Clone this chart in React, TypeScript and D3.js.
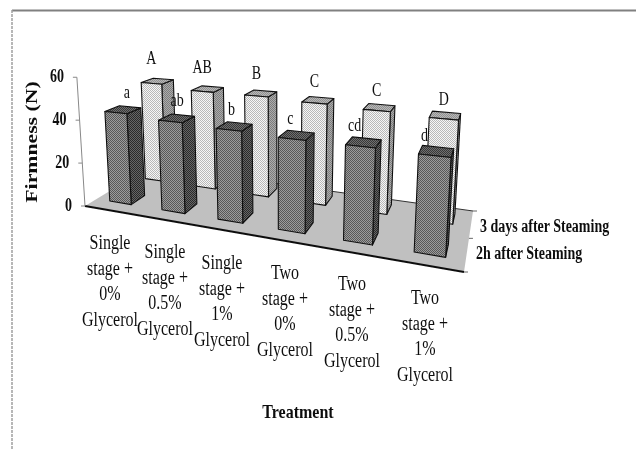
import React from "react";
import * as d3 from "d3";

const treatments = [
  ["Single", "stage +", "0%", "Glycerol"],
  ["Single", "stage +", "0.5%", "Glycerol"],
  ["Single", "stage +", "1%", "Glycerol"],
  ["Two", "stage +", "0%", "Glycerol"],
  ["Two", "stage +", "0.5%", "Glycerol"],
  ["Two", "stage +", "1%", "Glycerol"],
];
const seriesNames = ["2h after Steaming", "3 days after Steaming"];
const firmness2h = [42.5, 41, 40, 39, 39, 38.5];
const firmness3d = [50, 48, 48, 47, 46, 45];
const letters2h = ["a", "ab", "b", "c", "cd", "d"];
const letters3d = ["A", "AB", "B", "C", "C", "D"];
const yTicks = [0, 20, 40, 60];

const FL: [number, number] = [85, 206];
const FR: [number, number] = [464, 272];
const BR: [number, number] = [473, 211];
const BL: [number, number] = [151, 166];
const V: [number, number] = [280, 3300];

// projective map of unit square (u along categories, v into depth) to the floor
function makeHomography() {
  const [x0, y0] = FL, [x1, y1] = FR, [x2, y2] = BR, [x3, y3] = BL;
  const dx1 = x1 - x2, dx2 = x3 - x2, dx3 = x0 - x1 + x2 - x3;
  const dy1 = y1 - y2, dy2 = y3 - y2, dy3 = y0 - y1 + y2 - y3;
  const den = dx1 * dy2 - dx2 * dy1;
  const g = (dx3 * dy2 - dx2 * dy3) / den;
  const h = (dx1 * dy3 - dx3 * dy1) / den;
  const a = x1 - x0 + g * x1, b = x3 - x0 + h * x3;
  const d = y1 - y0 + g * y1, e = y3 - y0 + h * y3;
  return (u: number, v: number) => {
    const w = g * u + h * v + 1;
    return { x: (a * u + b * v + x0) / w, y: (d * u + e * v + y0) / w, s: 1 / w };
  };
}
const floor = makeHomography();

const valueScale = d3.scaleLinear().domain([0, 60]).range([0, 129]);
const uScale = d3.scaleBand<number>().domain(d3.range(6)).range([0, 1]).paddingInner(0.58).paddingOuter(0.26);
const vScale = d3.scaleBand<number>().domain([0, 1]).range([0, 1]).paddingInner(0.63).paddingOuter(0.24).align(0.6);

function lift(u: number, v: number, value: number): [number, number] {
  const p = floor(u, v);
  const px = valueScale(value) * p.s;
  const dx = V[0] - p.x, dy = V[1] - p.y;
  const len = Math.hypot(dx, dy);
  return [p.x - (dx / len) * px, p.y - (dy / len) * px];
}

const poly = d3.line();

function Bar({ cat, row, value, front, side, top }: { cat: number; row: number; value: number; front: string; side: string; top: string }) {
  const u0 = uScale(cat)!, u1 = u0 + uScale.bandwidth();
  const v0 = vScale(row)!, v1 = v0 + vScale.bandwidth();
  const A = lift(u0, v0, 0), B = lift(u1, v0, 0), C = lift(u1, v1, 0);
  const a = lift(u0, v0, value), b = lift(u1, v0, value), c = lift(u1, v1, value), d = lift(u0, v1, value);
  const st = { stroke: "#111", strokeWidth: 1.1, strokeLinejoin: "round" as const };
  return (
    <g>
      <path d={poly([B, C, c, b])! + "Z"} fill={side} {...st} />
      <path d={poly([a, b, c, d])! + "Z"} fill={top} {...st} />
      <path d={poly([A, B, b, a])! + "Z"} fill={front} {...st} />
    </g>
  );
}

const serif = "'Liberation Serif', 'Times New Roman', serif";

function Stretch({ x, y, size, sy = 1.25, bold, children, anchor = "middle" }: any) {
  return (
    <text transform={`translate(${x},${y}) scale(1,${sy})`} fontFamily={serif} fontSize={size} fontWeight={bold ? "bold" : "normal"} textAnchor={anchor} fill="#111">
      {children}
    </text>
  );
}

function dots(id: string, bg: string, fg: string) {
  return (
    <pattern id={id} width={2} height={2} patternUnits="userSpaceOnUse">
      <rect width={2} height={2} fill={bg} />
      <rect width={1} height={1} fill={fg} />
      <rect x={1} y={1} width={1} height={1} fill={fg} />
    </pattern>
  );
}

const labelX = [110, 165, 222, 285, 352, 425];
const labelY = [249, 258, 269, 279, 290, 304];

export default function App() {
  const axisTop = lift(0, 0, 60);
  const order = [1, 0];
  return (
    <svg width={636} height={450} style={{ position: "absolute", left: 0, top: 0, background: "#fff" }}>
      <defs>
        {dots("frontDark", "#9c9c9c", "#585858")}
        {dots("sideDark", "#666", "#2c2c2c")}
        {dots("topDark", "#707070", "#383838")}
        {dots("frontLight", "#f6f6f6", "#b8b8b8")}
        {dots("sideLight", "#acacac", "#7c7c7c")}
        {dots("topLight", "#b8b8b8", "#909090")}
        <filter id="soft"><feGaussianBlur stdDeviation={0.35} /></filter>
      </defs>
      <path d="M12,10.5H636" fill="none" stroke="#808080" strokeWidth={2} />
      <path d="M12,10V450" fill="none" stroke="#a0a0a0" strokeWidth={1.5} strokeDasharray="3 1" />
      <g filter="url(#soft)">
        <path d={poly([FL, FR, BR, BL])! + "Z"} fill="#c0c0c0" />
        <path d={poly([BL, BR])!} stroke="#333" strokeWidth={1} fill="none" />
        <path d={poly([FL, FR])!} stroke="#111" strokeWidth={1.8} fill="none" />
        <path d={poly([FL, axisTop])!} stroke="#888" strokeWidth={1} fill="none" />
        {yTicks.map((t) => {
          const p = lift(0, 0, t);
          return (
            <g key={t}>
              <line x1={p[0] - 4} x2={p[0]} y1={p[1]} y2={p[1]} stroke="#888" />
              <Stretch x={p[0] - 13} y={p[1] + 5} size={14} sy={1.4} bold anchor="end">{t}</Stretch>
            </g>
          );
        })}
        {[0, 0.5, 1].map((v) => {
          const p = floor(1, v);
          return <line key={v} x1={p.x} x2={p.x + 4} y1={p.y} y2={p.y} stroke="#666" />;
        })}
        {order.map((row) =>
          d3.range(6).map((i) => (
            <Bar
              key={`${row}-${i}`}
              cat={i}
              row={row}
              value={row === 0 ? firmness2h[i] : firmness3d[i]}
              front={row === 0 ? "url(#frontDark)" : "url(#frontLight)"}
              side={row === 0 ? "url(#sideDark)" : "url(#sideLight)"}
              top={row === 0 ? "url(#topDark)" : "url(#topLight)"}
            />
          ))
        )}
        {d3.range(6).map((i) => {
          const u = uScale(i)! + uScale.bandwidth() / 2;
          const f = lift(u, vScale(0)!, firmness2h[i]);
          const b = lift(u, vScale(1)!, firmness3d[i]);
          return (
            <g key={i}>
              <Stretch x={f[0] + 11 - 4.2 * i} y={f[1] - 15} size={14} sy={1.3} bold={false}>{letters2h[i]}</Stretch>
              <Stretch x={b[0]} y={b[1] - 19 + i} size={14} sy={1.3}>{letters3d[i]}</Stretch>
            </g>
          );
        })}
        {treatments.map((lines, i) =>
          lines.map((l, j) => (
            <Stretch key={j} x={labelX[i]} y={labelY[i] + j * 25.6} size={16}>{l}</Stretch>
          ))
        )}
        <Stretch x={480} y={232} size={14} sy={1.35} bold anchor="start">{seriesNames[1]}</Stretch>
        <Stretch x={476} y={259} size={14} sy={1.35} bold anchor="start">{seriesNames[0]}</Stretch>
        <Stretch x={298} y={418} size={16} sy={1.2} bold>Treatment</Stretch>
        <text transform="translate(37,142) rotate(-90) scale(1.28,1)" fontFamily={serif} fontSize={17} fontWeight="bold" textAnchor="middle" fill="#111">Firmness (N)</text>
      </g>
    </svg>
  );
}
